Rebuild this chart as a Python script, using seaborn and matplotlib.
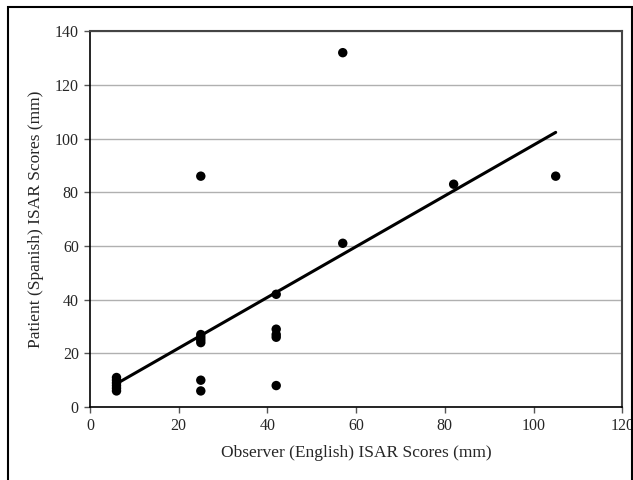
import numpy as np
import pandas as pd
import matplotlib
matplotlib.use("Agg")
import matplotlib.pyplot as plt
from matplotlib.patches import Rectangle
import seaborn as sns

# observer (English) vs patient (Spanish) ISAR scores
observer = [6, 6, 6, 6, 6, 6,
            25, 25, 25, 25, 25, 25, 25,
            42, 42, 42, 42, 42,
            57, 57, 82, 105]
patient = [6, 7, 8, 9, 10, 11,
           86, 27, 26, 25, 24, 10, 6,
           42, 29, 27, 26, 8,
           132, 61, 83, 86]

x_ticks = [0, 20, 40, 60, 80, 100, 120]
y_ticks = [0, 20, 40, 60, 80, 100, 120, 140]

df = pd.DataFrame({"observer": observer, "patient": patient})

sns.set_style("white")
plt.rcParams["font.family"] = ["Liberation Serif", "DejaVu Serif"]

fig = plt.figure(figsize=(6.33, 4.8), dpi=100)
ax = fig.add_axes([0.142, 0.152, 0.841, 0.783])

sns.regplot(data=df, x="observer", y="patient", ax=ax, ci=None,
            color="black",
            scatter_kws={"s": 46, "edgecolor": "none", "alpha": 1, "zorder": 3},
            line_kws={"lw": 2.2, "zorder": 4})

ax.set_xlim(0, 120)
ax.set_ylim(0, 140)
ax.set_xticks(x_ticks)
ax.set_yticks(y_ticks)
ax.yaxis.grid(True, color="#b0b0b0", lw=1)
ax.set_axisbelow(True)

ax.tick_params(axis="both", direction="out", length=4, width=1,
               color="#555555", labelsize=11.5, pad=4, bottom=True, left=True)
for side in ["left", "bottom"]:
    ax.spines[side].set_color("black")
    ax.spines[side].set_linewidth(1.2)
for side in ["top", "right"]:
    ax.spines[side].set_visible(True)
    ax.spines[side].set_color("#444444")
    ax.spines[side].set_linewidth(1.5)

ax.set_xlabel("Observer (English) ISAR Scores (mm)", fontsize=12.5, labelpad=8)
ax.set_ylabel("Patient (Spanish) ISAR Scores (mm)", fontsize=12.5, labelpad=8)

# outer frame around the whole figure
fig.patches.append(Rectangle((0.012, -0.01), 0.986, 0.996, transform=fig.transFigure,
                             fill=False, edgecolor="black", lw=1.5))

fig.savefig("out.png", dpi=100)
